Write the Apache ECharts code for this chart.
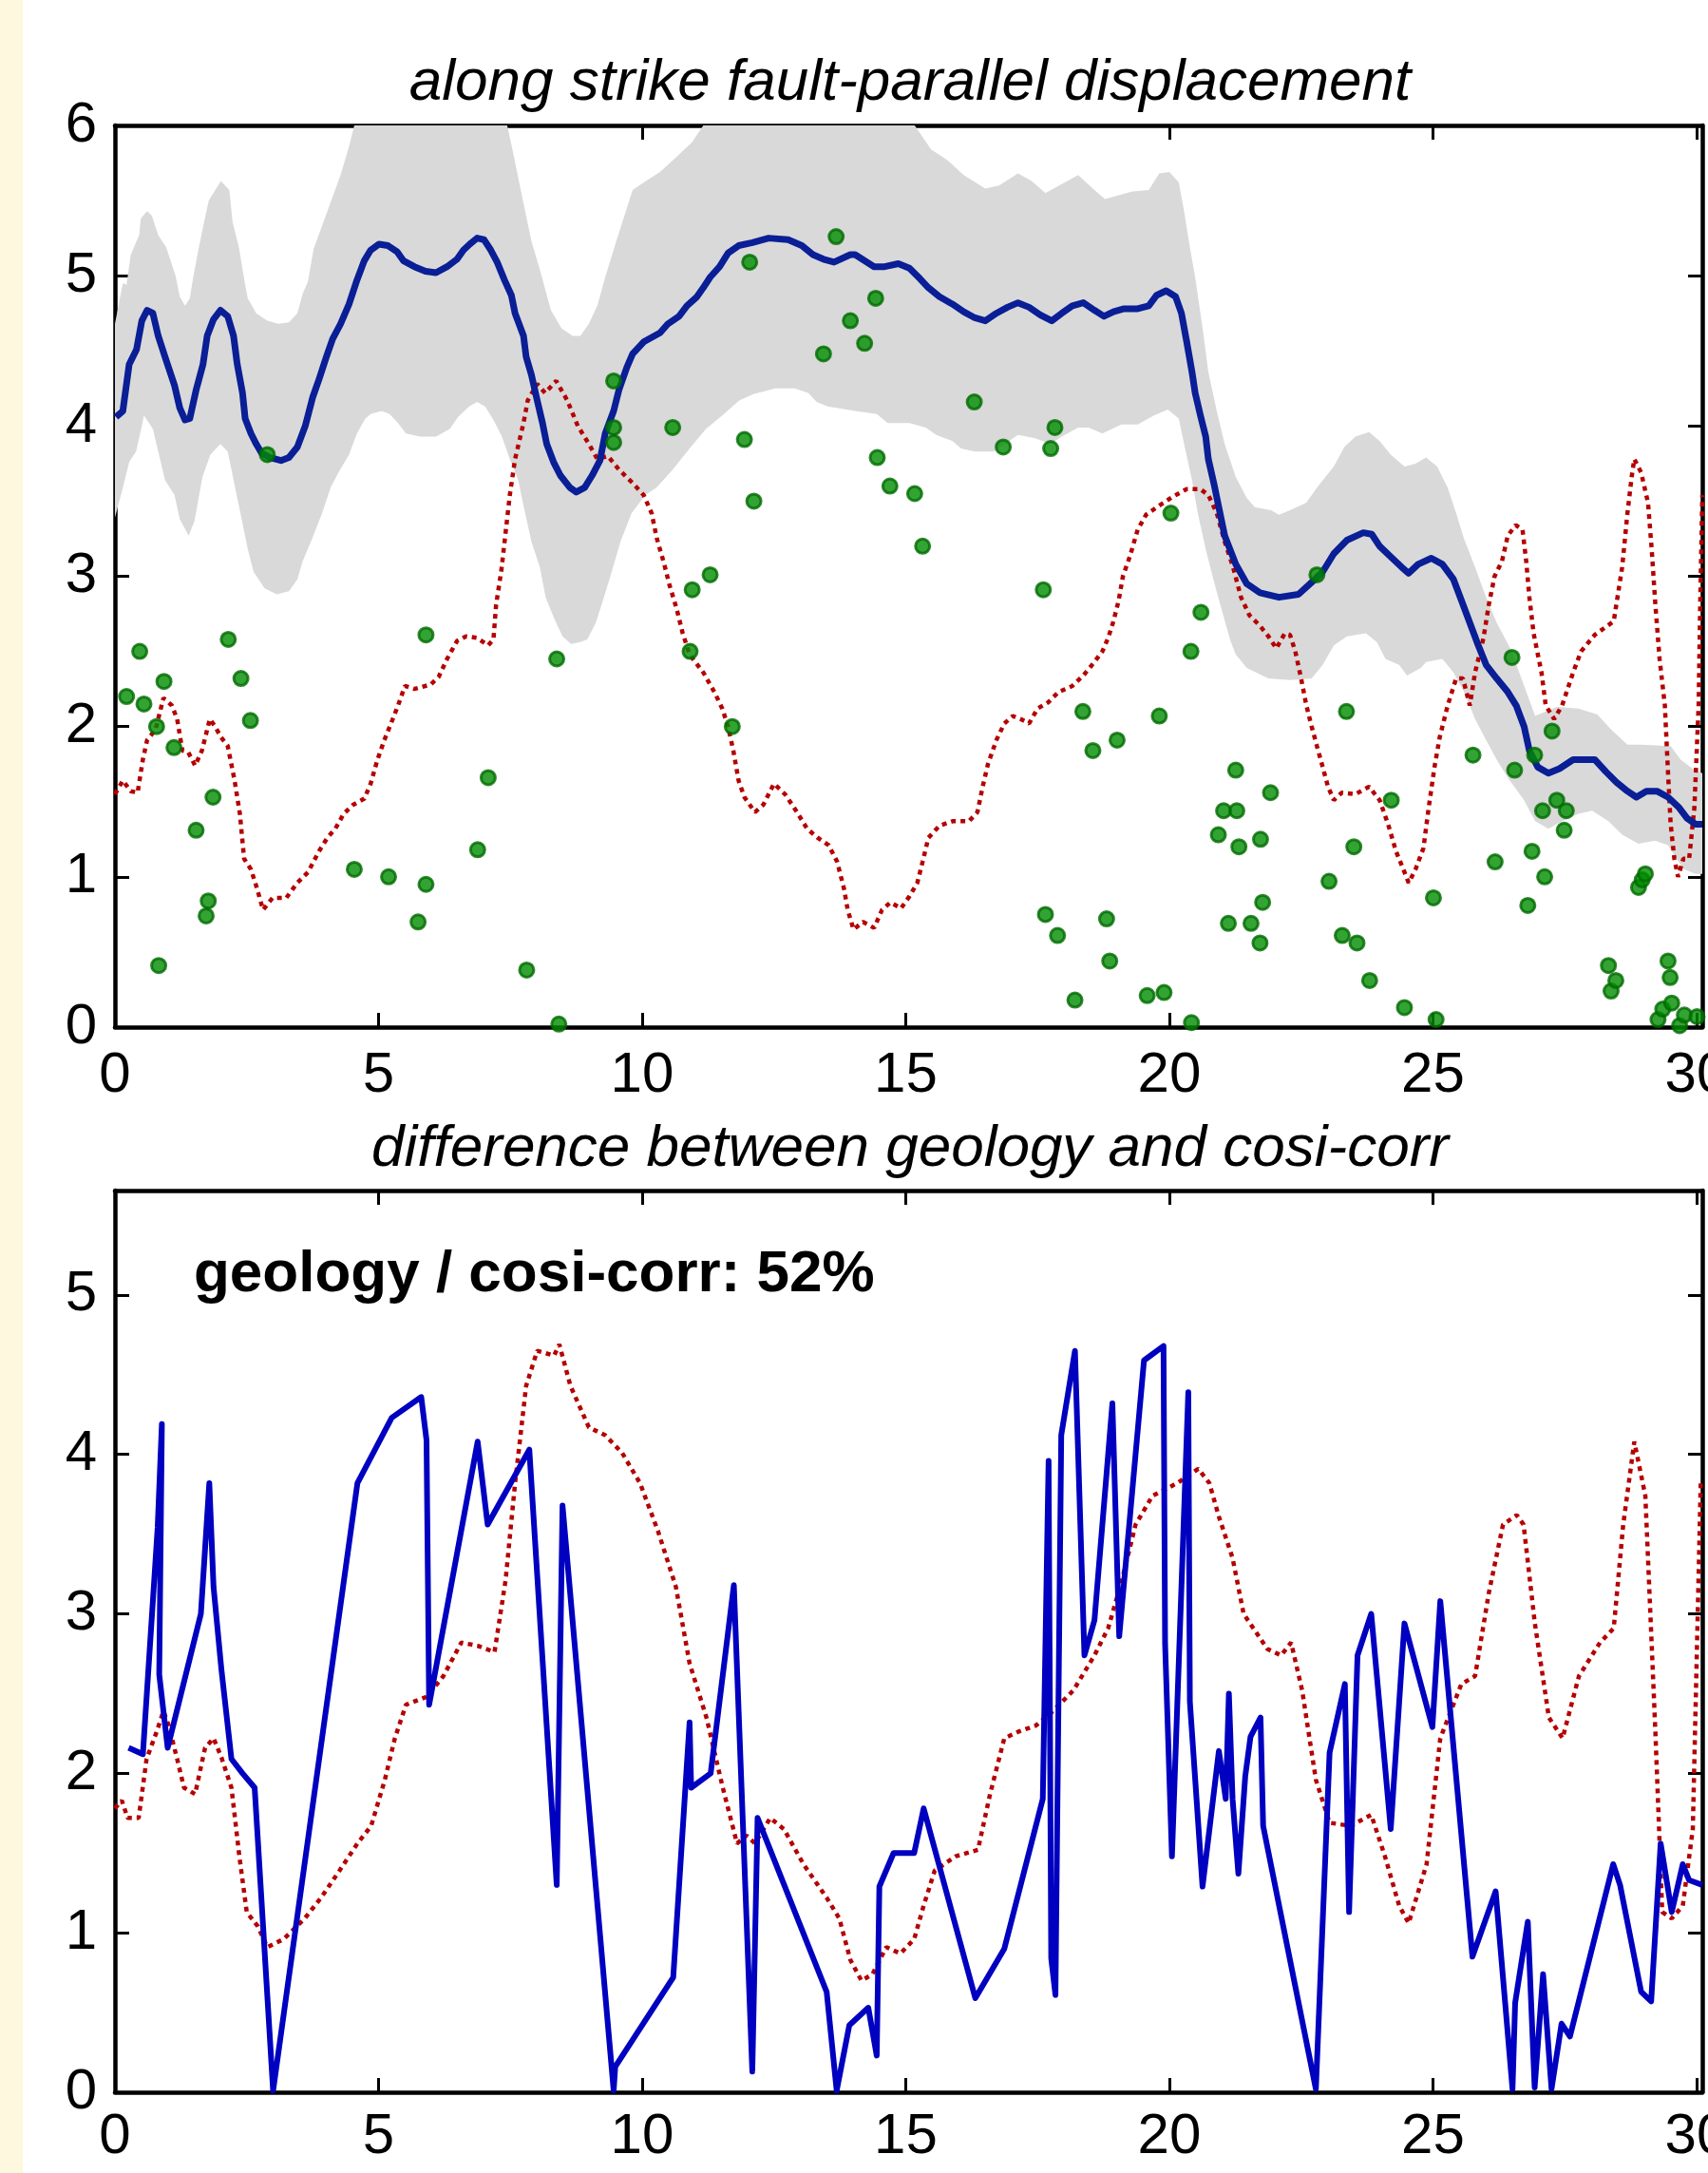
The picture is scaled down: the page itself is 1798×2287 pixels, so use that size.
<!DOCTYPE html>
<html>
<head>
<meta charset="utf-8">
<title>along strike fault-parallel displacement</title>
<script src="https://cdn.jsdelivr.net/npm/echarts@6/dist/echarts.min.js"></script>
<style>
  html, body { margin: 0; padding: 0; background: #ffffff; }
  #chart { width: 1798px; height: 2287px; }
</style>
</head>
<body>
<div id="chart"></div>
<script>
// ---- data: distance along strike (km) vs displacement (m) ----

// smoothed cosi-corr fault-parallel offset
const meanOffset = [
  [0.02,4.06],[0.15,4.10],[0.27,4.41],[0.41,4.51],[0.51,4.70],[0.61,4.77],[0.72,4.75],[0.82,4.60],[0.95,4.46],[1.13,4.27],
  [1.23,4.12],[1.33,4.04],[1.42,4.05],[1.54,4.24],[1.67,4.41],[1.75,4.60],[1.87,4.71],[2.00,4.77],[2.14,4.73],[2.25,4.60],
  [2.32,4.41],[2.42,4.22],[2.47,4.05],[2.58,3.95],[2.68,3.88],[2.78,3.82],[2.94,3.79],[3.15,3.77],[3.30,3.79],[3.46,3.86],
  [3.61,4.00],[3.75,4.19],[3.87,4.31],[4.01,4.46],[4.13,4.58],[4.28,4.68],[4.44,4.81],[4.59,4.97],[4.73,5.10],[4.85,5.17],
  [5.01,5.21],[5.18,5.20],[5.35,5.16],[5.47,5.10],[5.68,5.06],[5.89,5.03],[6.09,5.02],[6.30,5.06],[6.49,5.11],[6.61,5.17],
  [6.73,5.21],[6.87,5.25],[7.00,5.24],[7.13,5.17],[7.25,5.09],[7.39,4.97],[7.52,4.87],[7.59,4.75],[7.75,4.60],[7.80,4.46],
  [7.90,4.34],[8.01,4.17],[8.11,4.02],[8.19,3.88],[8.32,3.76],[8.45,3.67],[8.63,3.59],[8.75,3.56],[8.91,3.59],[9.05,3.67],
  [9.20,3.77],[9.30,3.95],[9.46,4.10],[9.56,4.24],[9.71,4.39],[9.82,4.48],[10.03,4.56],[10.34,4.62],[10.49,4.68],[10.70,4.73],
  [10.85,4.80],[11.04,4.86],[11.16,4.92],[11.29,4.99],[11.47,5.06],[11.63,5.15],[11.83,5.20],[12.09,5.22],[12.40,5.25],[12.77,5.24],
  [13.03,5.20],[13.24,5.14],[13.44,5.11],[13.64,5.09],[13.95,5.14],[14.04,5.14],[14.40,5.06],[14.60,5.06],[14.86,5.08],[15.07,5.05],
  [15.27,4.98],[15.43,4.92],[15.64,4.86],[15.89,4.81],[16.10,4.76],[16.31,4.72],[16.51,4.70],[16.72,4.75],[16.93,4.79],[17.13,4.82],
  [17.34,4.79],[17.55,4.74],[17.77,4.70],[17.96,4.75],[18.16,4.80],[18.37,4.82],[18.58,4.77],[18.76,4.73],[18.94,4.76],[19.14,4.78],
  [19.40,4.78],[19.61,4.80],[19.76,4.87],[19.94,4.90],[20.12,4.86],[20.23,4.75],[20.33,4.56],[20.43,4.36],[20.49,4.22],[20.59,4.07],
  [20.69,3.93],[20.74,3.78],[20.85,3.61],[20.95,3.44],[21.05,3.27],[21.26,3.08],[21.47,2.95],[21.72,2.89],[22.08,2.86],[22.45,2.88],
  [22.70,2.96],[22.91,3.03],[23.12,3.15],[23.37,3.24],[23.68,3.29],[23.84,3.28],[23.99,3.20],[24.20,3.13],[24.41,3.06],[24.54,3.02],
  [24.72,3.08],[24.97,3.12],[25.18,3.08],[25.39,2.98],[25.54,2.84],[25.70,2.69],[25.85,2.55],[26.01,2.41],[26.21,2.32],[26.42,2.23],
  [26.58,2.14],[26.73,2.00],[26.83,1.84],[26.99,1.73],[27.19,1.69],[27.40,1.72],[27.66,1.78],[28.07,1.78],[28.28,1.70],[28.48,1.63],
  [28.69,1.57],[28.86,1.53],[29.05,1.57],[29.25,1.57],[29.46,1.53],[29.67,1.46],[29.82,1.39],[29.98,1.35],[30.11,1.35]
];

// upper edge of the uncertainty envelope (drawn up to the axis limit)
const envelopeUpper = [
  [0,4.68],[0.15,4.95],[0.22,4.94],[0.30,5.14],[0.46,5.27],[0.49,5.38],[0.61,5.43],[0.70,5.40],[0.82,5.27],[0.97,5.19],
  [1.15,5.00],[1.23,4.86],[1.33,4.80],[1.42,4.85],[1.48,4.98],[1.57,5.15],[1.68,5.34],[1.78,5.50],[2.01,5.63],[2.17,5.57],
  [2.23,5.36],[2.35,5.19],[2.47,4.94],[2.52,4.85],[2.68,4.75],[2.89,4.70],[3.10,4.68],[3.30,4.69],[3.46,4.75],[3.56,4.88],
  [3.66,4.96],[3.77,5.18],[4.02,5.42],[4.28,5.67],[4.44,5.86],[4.54,6],[7.44,6],[7.54,5.84],[7.75,5.48],[7.90,5.23],
  [8.06,5.04],[8.27,4.77],[8.47,4.65],[8.68,4.60],[8.83,4.60],[8.99,4.68],[9.15,4.80],[9.30,4.99],[9.51,5.23],[9.82,5.57],
  [10.03,5.62],[10.34,5.69],[10.65,5.79],[10.95,5.89],[11.16,6],[15.17,6],[15.48,5.84],[15.79,5.77],[16.10,5.67],[16.51,5.58],
  [16.77,5.60],[17.13,5.68],[17.39,5.63],[17.65,5.55],[17.96,5.61],[18.27,5.67],[18.58,5.57],[18.78,5.51],[19.30,5.56],[19.61,5.57],
  [19.81,5.68],[20.00,5.69],[20.18,5.62],[20.28,5.43],[20.38,5.21],[20.49,4.99],[20.64,4.63],[20.74,4.36],[20.90,4.10],[21.05,3.88],
  [21.26,3.66],[21.47,3.52],[21.62,3.46],[21.93,3.44],[22.08,3.41],[22.29,3.44],[22.60,3.49],[22.80,3.59],[23.12,3.73],[23.32,3.86],
  [23.53,3.93],[23.79,3.96],[23.99,3.90],[24.20,3.81],[24.46,3.73],[24.67,3.75],[24.87,3.79],[25.08,3.73],[25.28,3.59],[25.44,3.42],
  [25.59,3.25],[25.80,3.06],[26.01,2.86],[26.21,2.69],[26.47,2.52],[26.70,2.30],[26.94,2.07],[27.35,2.13],[27.76,2.12],[28.12,2.08],
  [28.38,1.98],[28.69,1.88],[28.95,1.88],[29.51,1.87],[29.70,1.78],[29.96,1.71],[30.11,1.69]
];

// lower edge of the uncertainty envelope
const envelopeLower = [
  [0,3.39],[0.15,3.59],[0.27,3.76],[0.40,3.83],[0.51,4.00],[0.55,4.07],[0.72,3.98],[0.95,3.64],[1.13,3.54],[1.23,3.38],
  [1.40,3.27],[1.51,3.37],[1.66,3.66],[1.81,3.81],[2.00,3.88],[2.14,3.83],[2.25,3.64],[2.38,3.42],[2.52,3.18],[2.63,3.03],
  [2.84,2.92],[3.07,2.88],[3.30,2.90],[3.46,2.98],[3.56,3.10],[3.74,3.25],[3.93,3.42],[4.09,3.59],[4.24,3.69],[4.44,3.81],
  [4.59,3.95],[4.75,4.05],[4.85,4.08],[5.06,4.10],[5.21,4.08],[5.37,4.02],[5.52,3.95],[5.79,3.93],[6.09,3.93],[6.35,3.98],
  [6.51,4.06],[6.72,4.13],[6.87,4.16],[7.02,4.13],[7.18,4.04],[7.34,3.93],[7.49,3.78],[7.65,3.64],[7.75,3.47],[7.90,3.23],
  [8.06,3.06],[8.17,2.86],[8.33,2.72],[8.49,2.60],[8.65,2.55],[8.81,2.56],[8.96,2.58],[9.12,2.69],[9.23,2.81],[9.38,2.98],
  [9.59,3.23],[9.80,3.42],[10.06,3.54],[10.27,3.59],[10.58,3.71],[10.90,3.85],[11.21,3.98],[11.52,4.07],[11.84,4.17],[12.10,4.21],
  [12.52,4.25],[12.89,4.25],[13.15,4.22],[13.31,4.16],[13.52,4.13],[14.04,4.10],[14.45,4.08],[14.66,4.02],[15.07,4.02],[15.38,3.99],
  [15.58,3.94],[15.89,3.90],[16.05,3.85],[16.31,3.83],[16.67,3.83],[16.88,3.88],[17.13,3.94],[17.44,3.92],[17.75,3.88],[17.96,3.93],
  [18.27,3.99],[18.47,3.99],[18.73,3.95],[19.09,4.01],[19.40,4.01],[19.71,4.07],[19.97,4.11],[20.18,4.05],[20.28,3.88],[20.43,3.64],
  [20.54,3.42],[20.69,3.18],[20.85,2.96],[21.00,2.77],[21.16,2.57],[21.26,2.48],[21.47,2.39],[21.88,2.32],[22.29,2.31],[22.70,2.32],
  [22.91,2.41],[23.12,2.54],[23.37,2.60],[23.73,2.62],[23.94,2.56],[24.10,2.45],[24.36,2.41],[24.51,2.34],[24.77,2.39],[24.87,2.43],
  [25.18,2.45],[25.39,2.36],[25.59,2.23],[25.80,2.05],[26.01,1.91],[26.21,1.78],[26.42,1.66],[26.73,1.51],[26.94,1.37],[27.19,1.32],
  [27.45,1.37],[27.76,1.42],[28.02,1.44],[28.33,1.37],[28.59,1.28],[28.90,1.22],[29.21,1.24],[29.46,1.21],[29.62,1.12],[29.77,1.05],
  [29.98,1.02],[30.11,1.02]
];

// dotted red curve, upper panel
const ratioUpper = [
  [0.00,1.55],[0.15,1.64],[0.30,1.57],[0.43,1.56],[0.53,1.78],[0.61,1.91],[0.77,1.98],[0.92,2.19],[1.08,2.14],[1.18,2.05],
  [1.28,1.84],[1.39,1.83],[1.52,1.74],[1.65,1.84],[1.80,2.05],[1.90,2.00],[2.01,1.93],[2.14,1.87],[2.27,1.64],[2.37,1.42],
  [2.45,1.12],[2.58,1.05],[2.68,0.94],[2.81,0.78],[2.99,0.86],[3.25,0.86],[3.46,0.96],[3.66,1.03],[3.87,1.17],[4.03,1.26],
  [4.18,1.32],[4.34,1.42],[4.52,1.48],[4.73,1.52],[4.85,1.62],[4.98,1.78],[5.11,1.91],[5.27,2.05],[5.37,2.14],[5.50,2.27],
  [5.68,2.25],[5.99,2.28],[6.14,2.33],[6.30,2.45],[6.49,2.57],[6.66,2.60],[6.87,2.59],[7.08,2.54],[7.18,2.58],[7.23,2.81],
  [7.33,3.04],[7.49,3.54],[7.59,3.78],[7.75,4.02],[7.83,4.17],[8.01,4.28],[8.16,4.22],[8.37,4.30],[8.58,4.17],[8.78,4.00],
  [8.99,3.88],[9.15,3.78],[9.35,3.80],[9.56,3.71],[9.82,3.62],[10.03,3.54],[10.18,3.42],[10.28,3.25],[10.42,3.08],[10.52,2.94],
  [10.65,2.79],[10.77,2.62],[10.90,2.48],[11.16,2.36],[11.37,2.23],[11.52,2.12],[11.63,2.00],[11.73,1.84],[11.83,1.64],[11.94,1.53],
  [12.14,1.43],[12.30,1.48],[12.50,1.62],[12.71,1.55],[12.92,1.44],[13.13,1.32],[13.33,1.26],[13.54,1.21],[13.70,1.10],[13.83,0.92],
  [13.90,0.78],[14.01,0.65],[14.19,0.70],[14.40,0.66],[14.55,0.78],[14.71,0.83],[14.91,0.79],[15.07,0.87],[15.22,0.96],[15.32,1.10],
  [15.43,1.26],[15.64,1.34],[15.89,1.37],[16.20,1.37],[16.36,1.43],[16.46,1.60],[16.56,1.75],[16.72,1.91],[16.87,2.02],[17.03,2.07],
  [17.18,2.05],[17.34,2.02],[17.50,2.12],[17.70,2.16],[17.90,2.23],[18.16,2.27],[18.37,2.34],[18.58,2.43],[18.73,2.50],[18.84,2.59],
  [18.94,2.70],[19.04,2.84],[19.12,3.00],[19.25,3.13],[19.40,3.31],[19.56,3.41],[19.81,3.47],[20.07,3.53],[20.33,3.58],[20.59,3.58],
  [20.74,3.54],[20.90,3.42],[21.05,3.23],[21.21,3.06],[21.36,2.86],[21.52,2.74],[21.72,2.67],[21.88,2.60],[22.03,2.52],[22.19,2.62],
  [22.29,2.61],[22.39,2.50],[22.50,2.32],[22.60,2.14],[22.70,2.00],[22.80,1.87],[22.91,1.73],[23.01,1.60],[23.12,1.51],[23.27,1.56],
  [23.53,1.55],[23.79,1.60],[23.99,1.51],[24.15,1.35],[24.30,1.17],[24.44,1.05],[24.54,0.96],[24.67,1.05],[24.82,1.19],[24.92,1.46],
  [25.03,1.73],[25.13,1.93],[25.28,2.14],[25.44,2.32],[25.57,2.32],[25.70,2.14],[25.80,2.36],[25.96,2.59],[26.06,2.81],[26.17,3.00],
  [26.31,3.10],[26.42,3.27],[26.57,3.34],[26.70,3.31],[26.77,3.10],[26.83,2.86],[26.91,2.62],[27.06,2.36],[27.14,2.14],[27.30,2.05],
  [27.45,2.14],[27.66,2.36],[27.81,2.50],[28.07,2.61],[28.43,2.70],[28.59,3.06],[28.69,3.42],[28.77,3.66],[28.82,3.78],[28.95,3.69],
  [29.08,3.49],[29.15,3.18],[29.22,2.81],[29.30,2.45],[29.40,2.14],[29.46,1.69],[29.51,1.35],[29.58,1.12],[29.65,1.00],[29.75,1.12],
  [29.86,1.12],[29.96,1.46],[30.04,2.14],[30.07,2.81],[30.11,3.54]
];

// geologic field measurements
const fieldOffsets = [
  [0.22,2.20],[0.47,2.50],[0.55,2.15],[0.79,2.00],[0.83,0.41],[0.93,2.30],[1.12,1.86],[1.54,1.31],[1.73,0.74],[1.77,0.84],
  [1.86,1.53],[2.15,2.58],[2.39,2.32],[2.57,2.04],[2.89,3.81],[4.54,1.05],[5.19,1.00],[5.75,0.70],[5.90,0.95],[5.90,2.61],
  [6.88,1.18],[7.08,1.66],[7.81,0.38],[8.38,2.45],[8.42,0.02],[9.46,4.30],[9.46,3.99],[9.46,3.89],[10.58,3.99],[10.91,2.50],
  [10.95,2.91],[11.29,3.01],[11.71,2.00],[11.94,3.91],[12.04,5.09],[12.12,3.50],[13.44,4.48],[13.68,5.26],[13.95,4.70],[14.22,4.55],
  [14.43,4.85],[14.46,3.79],[14.70,3.60],[15.17,3.55],[15.32,3.20],[16.30,4.16],[16.85,3.86],[17.61,2.91],[17.65,0.75],[17.75,3.85],
  [17.83,3.99],[17.88,0.61],[18.21,0.18],[18.36,2.10],[18.55,1.84],[18.81,0.72],[18.87,0.44],[19.01,1.91],[19.58,0.21],[19.81,2.07],
  [19.90,0.23],[20.03,3.42],[20.41,2.50],[20.42,0.03],[20.60,2.76],[20.93,1.28],[21.03,1.44],[21.12,0.69],[21.26,1.71],[21.28,1.44],
  [21.32,1.20],[21.55,0.69],[21.72,0.56],[21.73,1.25],[21.77,0.83],[21.92,1.56],[22.80,3.01],[23.03,0.97],[23.28,0.61],[23.36,2.10],
  [23.50,1.20],[23.56,0.56],[23.80,0.31],[24.21,1.51],[24.46,0.13],[25.01,0.86],[25.06,0.05],[25.76,1.81],[26.18,1.10],[26.50,2.46],
  [26.55,1.71],[26.80,0.81],[26.88,1.17],[26.93,1.81],[27.08,1.44],[27.12,1.00],[27.26,1.97],[27.35,1.51],[27.49,1.31],[27.53,1.44],
  [28.33,0.41],[28.38,0.24],[28.47,0.31],[28.90,0.93],[28.97,0.98],[29.03,1.02],[29.27,0.05],[29.36,0.12],[29.46,0.44],[29.50,0.33],
  [29.53,0.16],[29.68,0.01],[29.77,0.08],[30.01,0.07]
];

// difference between geology and cosi-corr, lower panel
const offsetDifference = [
  [0.26,2.16],[0.53,2.12],[0.81,3.54],[0.89,4.19],[0.84,2.62],[1.00,2.16],[1.63,3.00],[1.79,3.82],[1.87,3.17],[2.02,2.65],
  [2.21,2.09],[2.42,2.00],[2.65,1.91],[3.00,0.01],[4.60,3.82],[5.25,4.23],[5.81,4.36],[5.91,4.09],[5.96,2.43],[6.88,4.08],
  [7.07,3.56],[7.86,4.03],[8.38,1.30],[8.49,3.68],[9.46,0.01],[9.49,0.16],[10.59,0.72],[10.90,2.32],[10.93,1.91],[11.30,2.00],
  [11.74,3.18],[12.09,0.13],[12.19,1.72],[13.50,0.63],[13.69,0.01],[13.93,0.42],[14.29,0.53],[14.45,0.23],[14.50,1.29],[14.77,1.50],
  [15.16,1.50],[15.34,1.78],[16.32,0.59],[16.87,0.90],[17.60,1.84],[17.71,3.96],[17.76,0.84],[17.84,0.61],[17.95,4.12],[18.21,4.65],
  [18.39,2.74],[18.58,2.96],[18.92,4.32],[19.05,2.86],[19.52,4.59],[19.89,4.68],[19.92,2.81],[20.05,1.48],[20.36,4.39],[20.39,2.45],
  [20.63,1.29],[20.94,2.14],[21.07,1.84],[21.13,2.50],[21.20,1.84],[21.31,1.37],[21.44,1.98],[21.54,2.23],[21.73,2.35],[21.78,1.67],
  [22.78,0.02],[23.04,2.13],[23.33,2.56],[23.41,1.13],[23.57,2.74],[23.83,3.00],[24.20,1.65],[24.46,2.94],[24.99,2.29],[25.14,3.08],
  [25.75,0.85],[26.19,1.26],[26.51,0.02],[26.56,0.56],[26.80,1.07],[26.93,0.03],[27.09,0.74],[27.25,0.02],[27.44,0.43],[27.60,0.35],
  [28.42,1.43],[28.55,1.30],[28.95,0.63],[29.14,0.57],[29.32,1.56],[29.53,1.13],[29.74,1.43],[29.86,1.33],[30.11,1.30]
];

// dotted red curve, lower panel
const ratioLower = [
  [0.00,1.78],[0.13,1.83],[0.24,1.72],[0.45,1.72],[0.60,2.09],[0.79,2.26],[0.92,2.39],[1.02,2.30],[1.18,2.09],[1.31,1.91],
  [1.52,1.87],[1.71,2.16],[1.87,2.22],[2.02,2.10],[2.21,1.91],[2.36,1.48],[2.50,1.13],[2.71,1.04],[2.89,0.91],[3.20,0.96],
  [3.60,1.09],[3.91,1.22],[4.26,1.39],[4.60,1.56],[4.86,1.67],[5.12,1.96],[5.31,2.22],[5.52,2.43],[5.91,2.48],[6.23,2.61],
  [6.57,2.82],[6.88,2.80],[7.20,2.76],[7.41,3.21],[7.59,3.82],[7.80,4.43],[8.01,4.65],[8.33,4.62],[8.43,4.69],[8.64,4.43],
  [8.99,4.17],[9.30,4.12],[9.62,4.01],[9.96,3.82],[10.30,3.52],[10.64,3.17],[10.90,2.69],[11.22,2.35],[11.53,1.91],[11.80,1.56],
  [11.98,1.61],[12.14,1.56],[12.43,1.72],[12.69,1.65],[13.06,1.43],[13.50,1.22],[13.74,1.09],[13.95,0.83],[14.16,0.70],[14.37,0.74],
  [14.63,0.91],[14.90,0.87],[15.16,0.96],[15.34,1.17],[15.55,1.39],[15.95,1.48],[16.37,1.52],[16.60,1.87],[16.87,2.22],[17.13,2.26],
  [17.47,2.30],[17.79,2.39],[18.18,2.52],[18.58,2.74],[18.84,2.91],[19.10,3.21],[19.36,3.56],[19.68,3.74],[20.15,3.82],[20.55,3.91],
  [20.76,3.82],[20.94,3.61],[21.20,3.35],[21.41,3.00],[21.86,2.78],[22.12,2.74],[22.31,2.82],[22.52,2.52],[22.78,1.96],[23.04,1.69],
  [23.44,1.67],[23.83,1.74],[24.09,1.48],[24.36,1.17],[24.54,1.06],[24.88,1.43],[25.14,2.22],[25.54,2.56],[25.80,2.61],[26.06,3.13],
  [26.33,3.56],[26.59,3.62],[26.72,3.56],[26.93,2.95],[27.20,2.35],[27.46,2.22],[27.77,2.61],[28.17,2.82],[28.43,2.91],[28.61,3.56],
  [28.82,4.08],[29.03,3.74],[29.22,2.26],[29.35,1.13],[29.53,1.09],[29.74,1.17],[29.93,1.65],[30.08,3.82]
];

const titleUpper = 'along strike fault-parallel displacement';
const titleLower = 'difference between geology and cosi-corr';
const ratioNote = 'geology / cosi-corr: 52%';

// ---- styling ----
const FONT = '"Liberation Sans", Arial, Helvetica, sans-serif';
const X_MAX = 30.11;
const GRID_LEFT = 121, GRID_WIDTH = 1671, GRID_HEIGHT = 949;

function xAxisFor(gridIndex, position, showLabel, margin) {
  return {
    type: 'value', gridIndex, position, min: 0, max: X_MAX, interval: 5,
    axisLine: { show: true, onZero: false, lineStyle: { color: '#000', width: 4.5 } },
    axisTick: { show: true, inside: true, length: 15, lineStyle: { color: '#000', width: 3 } },
    axisLabel: { show: showLabel, color: '#000', fontSize: 60, fontFamily: FONT, margin,
                 showMaxLabel: false },
    splitLine: { show: false }
  };
}
function yAxisFor(gridIndex, position, showLabel, max) {
  return {
    type: 'value', gridIndex, position, min: 0, max, interval: 1,
    axisLine: { show: true, onZero: false, lineStyle: { color: '#000', width: 4.5 } },
    axisTick: { show: true, inside: true, length: 15, lineStyle: { color: '#000', width: 3 } },
    axisLabel: { show: showLabel, color: '#000', fontSize: 60, fontFamily: FONT, margin: 19,
                 formatter: v => (Math.abs(v - Math.round(v)) < 1e-6 ? String(Math.round(v)) : '') },
    splitLine: { show: false }
  };
}

const chart = echarts.init(document.getElementById('chart'), null, { renderer: 'canvas' });

chart.setOption({
  backgroundColor: '#ffffff',
  animation: false,
  grid: [
    { left: GRID_LEFT, top: 132, width: GRID_WIDTH, height: GRID_HEIGHT,
      containLabel: false, outerBoundsMode: 'none' },
    { left: GRID_LEFT, top: 1253, width: GRID_WIDTH, height: GRID_HEIGHT,
      containLabel: false, outerBoundsMode: 'none' }
  ],
  xAxis: [
    xAxisFor(0, 'bottom', true, 21),
    xAxisFor(0, 'top', false, 0),
    xAxisFor(1, 'bottom', true, 17),
    xAxisFor(1, 'top', false, 0)
  ],
  yAxis: [
    yAxisFor(0, 'left', true, 6),
    yAxisFor(0, 'right', false, 6),
    yAxisFor(1, 'left', true, 5.655),
    yAxisFor(1, 'right', false, 5.655)
  ],
  graphic: [
    { type: 'rect', left: 0, top: 0, shape: { x: 0, y: 0, width: 24, height: 2287 },
      style: { fill: '#FDF8DE' }, silent: true },
    { type: 'text', x: 958, y: 88,
      style: { text: titleUpper, font: 'italic 62px ' + FONT, fill: '#000',
               align: 'center', verticalAlign: 'middle', textAlign: 'center', textVerticalAlign: 'middle' } },
    { type: 'text', x: 958, y: 1210,
      style: { text: titleLower, font: 'italic 62px ' + FONT, fill: '#000',
               align: 'center', verticalAlign: 'middle', textAlign: 'center', textVerticalAlign: 'middle' } },
    { type: 'text', x: 204, y: 1342, z: 100,
      style: { text: ratioNote, font: 'bold 62px ' + FONT, fill: '#000',
               align: 'left', verticalAlign: 'middle', textAlign: 'left', textVerticalAlign: 'middle' } }
  ],
  series: [
    {
      // uncertainty envelope as a filled polygon between the two edges
      type: 'custom', name: 'envelope', xAxisIndex: 0, yAxisIndex: 0,
      data: [[0, 0]], silent: true, z: 1,
      renderItem: function (params, api) {
        const pts = envelopeUpper.map(p => api.coord(p));
        for (let i = envelopeLower.length - 1; i >= 0; i--) pts.push(api.coord(envelopeLower[i]));
        return { type: 'polygon', shape: { points: pts }, style: { fill: '#d9d9d9', stroke: null } };
      }
    },
    {
      type: 'line', name: 'ratio', xAxisIndex: 0, yAxisIndex: 0, data: ratioUpper,
      showSymbol: false, z: 3, silent: true,
      lineStyle: { color: '#b50000', width: 4.5, type: [5, 5] }
    },
    {
      type: 'line', name: 'cosi-corr', xAxisIndex: 0, yAxisIndex: 0, data: meanOffset,
      showSymbol: false, z: 4, silent: true,
      lineStyle: { color: '#0a1e96', width: 7, join: 'round' }
    },
    {
      type: 'scatter', name: 'geology', xAxisIndex: 0, yAxisIndex: 0, data: fieldOffsets,
      symbol: 'circle', symbolSize: 15, z: 5, silent: true,
      itemStyle: { color: '#008c00', borderColor: '#006a00', borderWidth: 3 }
    },
    {
      type: 'line', name: 'ratio', xAxisIndex: 2, yAxisIndex: 2, data: ratioLower,
      showSymbol: false, z: 3, silent: true,
      lineStyle: { color: '#b50000', width: 4.5, type: [5, 5] }
    },
    {
      type: 'line', name: 'difference', xAxisIndex: 2, yAxisIndex: 2, data: offsetDifference,
      showSymbol: false, z: 4, silent: true,
      lineStyle: { color: '#0000c0', width: 6, join: 'round' }
    }
  ]
});
</script>
</body>
</html>
